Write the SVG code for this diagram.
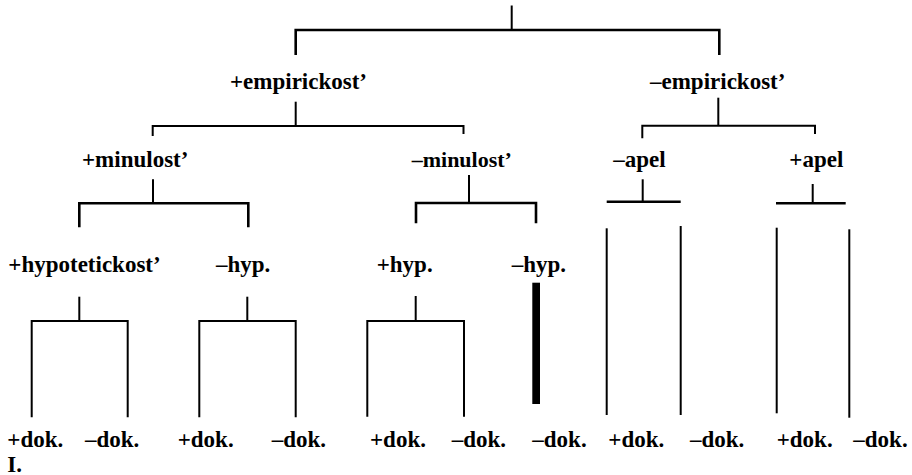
<svg xmlns="http://www.w3.org/2000/svg" width="912" height="475" viewBox="0 0 912 475">
  <style>
    .lbl { font-family: 'Liberation Serif', 'DejaVu Serif', serif; font-weight: 700; font-size: 23px; fill: #000; }
    .sm { font-size: 22px; }
    .ln { fill: none; stroke: #000; stroke-width: 2; stroke-linejoin: miter; }
    .thick { stroke-width: 2.6; }
  </style>
  <rect width="912" height="475" fill="#fff"/>

  <!-- connectors: stems and brackets of the feature tree -->
  <g id="connectors">
    <!-- root -->
    <path class="ln" d="M511.7 5.5 V30"/>
    <path class="ln thick" d="M295.7 55 V30 H719.3 V55"/>
    <!-- +empirickost' -->
    <path class="ln" d="M295.7 101.7 V126"/>
    <path class="ln" d="M152.7 136 V126 H463.5 V134"/>
    <!-- -empirickost' -->
    <path class="ln" d="M718.3 97.7 V125.7"/>
    <path class="ln" d="M642.3 138.3 V125.7 H815 V134"/>
    <!-- +minulost' -->
    <path class="ln" d="M153 179.3 V203.3"/>
    <path class="ln thick" d="M79.3 227.3 V203.3 H248.3 V227.3"/>
    <!-- -minulost' -->
    <path class="ln" d="M469 175 V203"/>
    <path class="ln thick" d="M416 223.3 V203 H536 V223.3"/>
    <!-- -apel -->
    <path class="ln" d="M642.7 179.3 V201.7"/>
    <path class="ln thick" d="M606.7 201.7 H680.7"/>
    <path class="ln" d="M606.7 228.3 V415"/>
    <path class="ln" d="M680.7 226 V415"/>
    <!-- +apel -->
    <path class="ln" d="M812.7 184 V203.3"/>
    <path class="ln thick" d="M776 203.3 H845.7"/>
    <path class="ln" d="M776.7 227.7 V413.3"/>
    <path class="ln" d="M849.3 229.3 V417.7"/>
    <!-- +hypotetickost' -->
    <path class="ln" d="M79.3 296.7 V321"/>
    <path class="ln" d="M31.7 417.3 V321 H127.7 V417.3"/>
    <!-- -hyp. (past) -->
    <path class="ln" d="M247.3 296.7 V321"/>
    <path class="ln" d="M199.3 417.3 V321 H295.7 V417.3"/>
    <!-- +hyp. (non-past) -->
    <path class="ln" d="M415.7 296 V321"/>
    <path class="ln" d="M367.3 416.7 V321 H464 V416.7"/>
    <!-- -hyp. (non-past): single heavy bar -->
    <rect x="532.3" y="282.7" width="7.7" height="121.3" fill="#000"/>
  </g>

  <g id="n-plus-empir"><text class="lbl" x="230" y="89">+empirickost’</text></g>
  <g id="n-minus-empir"><text class="lbl" x="650" y="89">–empirickost’</text></g>

  <g id="n-plus-min"><text class="lbl" x="82" y="167">+minulost’</text></g>
  <g id="n-minus-min"><text class="lbl sm" x="411.7" y="167">–minulost’</text></g>
  <g id="n-minus-apel"><text class="lbl" x="613.3" y="167">–apel</text></g>
  <g id="n-plus-apel"><text class="lbl" x="789.3" y="167">+apel</text></g>

  <g id="n-plus-hyp-1"><text class="lbl" x="8.3" y="271.5">+hypotetickost’</text></g>
  <g id="n-minus-hyp-1"><text class="lbl" x="216" y="271.5">–hyp.</text></g>
  <g id="n-plus-hyp-2"><text class="lbl" x="376.7" y="271.5">+hyp.</text></g>
  <g id="n-minus-hyp-2"><text class="lbl" x="511.7" y="271.5">–hyp.</text></g>

  <g id="n-dok-1"><text class="lbl" x="7.3" y="446.7">+dok.</text></g>
  <g id="n-dok-2"><text class="lbl" x="85" y="446.7">–dok.</text></g>
  <g id="n-dok-3"><text class="lbl" x="177.7" y="446.7">+dok.</text></g>
  <g id="n-dok-4"><text class="lbl" x="271.7" y="446.7">–dok.</text></g>
  <g id="n-dok-5"><text class="lbl" x="370" y="446.7">+dok.</text></g>
  <g id="n-dok-6"><text class="lbl" x="451.7" y="446.7">–dok.</text></g>
  <g id="n-dok-7"><text class="lbl" x="532.3" y="446.7">–dok.</text></g>
  <g id="n-dok-8"><text class="lbl" x="608.3" y="446.7">+dok.</text></g>
  <g id="n-dok-9"><text class="lbl" x="690" y="446.7">–dok.</text></g>
  <g id="n-dok-10"><text class="lbl" x="776.7" y="446.7">+dok.</text></g>
  <g id="n-dok-11"><text class="lbl" x="853.3" y="446.7">–dok.</text></g>

  <g id="caption"><text class="lbl" x="7.3" y="471.7">I.</text></g>
</svg>
